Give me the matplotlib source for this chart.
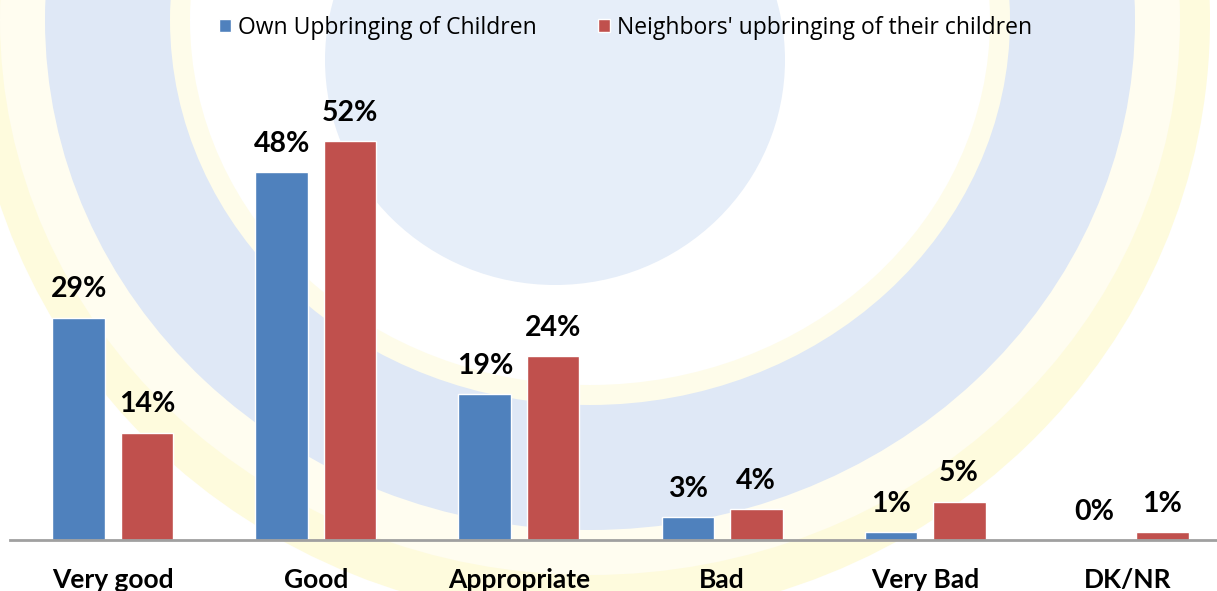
import matplotlib.pyplot as plt
import numpy as np
from matplotlib.patches import Ellipse

categories = ['Very good', 'Good', 'Appropriate', 'Bad', 'Very Bad', 'DK/NR']
own = [29, 48, 19, 3, 1, 0]
neighbors = [14, 52, 24, 4, 5, 1]
series_names = ['Own Upbringing of Children', "Neighbors' upbringing of their children"]

blue = '#4F81BD'
red = '#C0504D'

fig = plt.figure(figsize=(12.17, 5.91), dpi=100)

# faint logo watermark behind the chart
bg = fig.add_axes([0, 0, 1, 1], zorder=-1)
bg.set_xlim(0, 1217)
bg.set_ylim(591, 0)
bg.axis('off')
bg.add_patch(Ellipse((590, 20), 1240, 1200, color='#FEFBDD', lw=0))
bg.add_patch(Ellipse((590, 20), 1180, 1110, color='#FFFDF0', lw=0))
bg.add_patch(Ellipse((590, 20), 1090, 1020, color='#DFE8F6', lw=0))
bg.add_patch(Ellipse((590, 20), 840, 770, color='#FEFCEA', lw=0))
bg.add_patch(Ellipse((590, 20), 800, 730, color='white', lw=0))
bg.add_patch(Ellipse((555, 60), 460, 450, color='#E6EEF9', lw=0))

ax = fig.add_axes([10 / 1217, 51 / 591, 1207 / 1217, 460 / 591])
ax.patch.set_alpha(0)
x = np.arange(len(categories))
w = 0.26
b1 = ax.bar(x - 0.168, own, w, color=blue, edgecolor='white', linewidth=1, label=series_names[0])
b2 = ax.bar(x + 0.168, neighbors, w, color=red, edgecolor='white', linewidth=1, label=series_names[1])

for bars, vals in [(b1, own), (b2, neighbors)]:
    for r, v in zip(bars, vals):
        ax.annotate(f'{v}%', (r.get_x() + r.get_width() / 2, v), xytext=(0, 11),
                    textcoords='offset points', ha='center', va='bottom',
                    fontsize=20.5, fontweight='bold', family='Lato')

ax.set_xlim(-0.507, 5.438)
ax.set_ylim(0, 60)
ax.set_yticks([])
ax.set_xticks(x)
ax.set_xticklabels(categories, fontsize=19, fontweight='bold', family='Lato')
ax.tick_params(axis='x', length=0, pad=20)
for s in ['top', 'right', 'left']:
    ax.spines[s].set_visible(False)
ax.spines['bottom'].set_color('#A0A0A0')
ax.spines['bottom'].set_linewidth(2)

fig.legend(loc='center', bbox_to_anchor=(0.514, 0.953), ncol=2, frameon=False,
           handlelength=0.5, handleheight=0.5, columnspacing=2.7,
           handletextpad=0.3, prop={'family': 'Open Sans', 'size': 16.5})

fig.savefig('out.png', dpi=100)
